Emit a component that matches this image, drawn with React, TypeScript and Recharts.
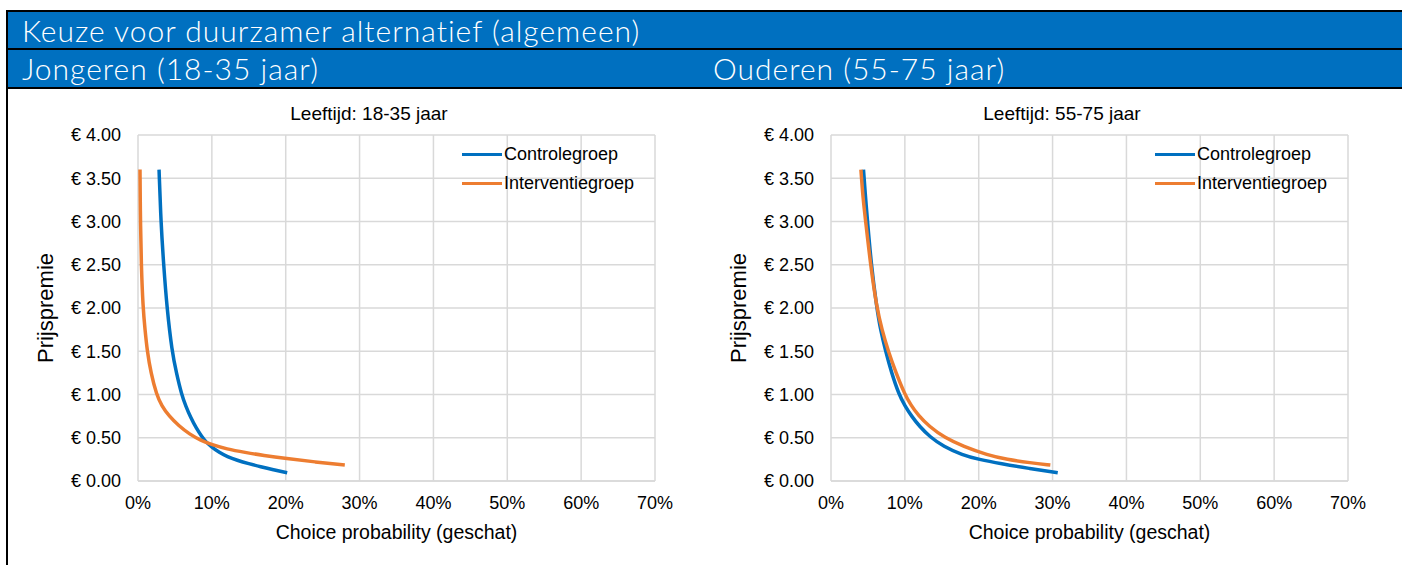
import React from 'react';
import { LineChart, Line, XAxis, YAxis, CartesianGrid, Legend } from 'recharts';

// ---- Data (x = choice probability in %, y = prijspremie in €) ----
const xTicks = [0, 10, 20, 30, 40, 50, 60, 70];
const yTicks = [0, 0.5, 1, 1.5, 2, 2.5, 3, 3.5, 4];

const seriesNames = ['Controlegroep', 'Interventiegroep'];
const seriesColors = ['#0070C0', '#ED7D31'];

// Jongeren (18-35 jaar)
const kansControleJong = [2.85, 3.1, 3.47, 3.92, 4.6, 5.2, 5.9, 6.5, 7.1, 7.95, 8.6, 9.1, 10.0, 11.0, 12.1, 13.4, 15.0, 16.6, 18.3, 20.2];
const premieControleJong = [3.6, 3.0, 2.5, 2.0, 1.5, 1.25, 1.0, 0.86, 0.74, 0.6, 0.52, 0.46, 0.39, 0.33, 0.28, 0.24, 0.2, 0.165, 0.13, 0.095];
const kansInterventieJong = [0.27, 0.31, 0.34, 0.44, 0.68, 0.95, 1.25, 1.75, 2.5, 3.2, 4.2, 5.5, 7.0, 8.5, 10.0, 12.0, 14.5, 17.0, 20.0, 24.0, 28.0];
const premieInterventieJong = [3.6, 3.2, 3.0, 2.5, 2.0, 1.75, 1.5, 1.25, 1.0, 0.87, 0.75, 0.64, 0.54, 0.47, 0.42, 0.37, 0.33, 0.295, 0.26, 0.22, 0.185];

// Ouderen (55-75 jaar)
const kansControleOud = [4.4, 4.7, 4.95, 5.45, 6.2, 6.7, 7.4, 8.2, 9.2, 10.0, 10.9, 12.0, 13.4, 15.2, 17.8, 20.0, 23.0, 26.8, 30.7];
const premieControleOud = [3.6, 3.25, 3.0, 2.5, 2.0, 1.75, 1.5, 1.25, 1.0, 0.87, 0.75, 0.63, 0.51, 0.4, 0.3, 0.25, 0.2, 0.145, 0.095];
const kansInterventieOud = [4.05, 4.35, 4.7, 5.35, 6.2, 6.9, 7.75, 8.8, 10.0, 10.8, 11.8, 13.3, 15.4, 17.9, 21.2, 23.8, 27.0, 29.7];
const premieInterventieOud = [3.6, 3.25, 3.0, 2.5, 2.0, 1.75, 1.5, 1.25, 1.0, 0.88, 0.76, 0.63, 0.5, 0.4, 0.3, 0.25, 0.21, 0.185];

const toPoints = (xs: number[], ys: number[]) => xs.map((x, i) => ({ x, y: ys[i] }));

const FONT = '"Liberation Sans", Arial, sans-serif';
const HFONT = 'Lato, "Open Sans", sans-serif';

const LegendContent = () => (
  <div style={{ fontFamily: FONT, fontSize: 18, color: '#000' }}>
    {seriesNames.map((n, i) => (
      <div key={n} style={{ display: 'flex', alignItems: 'center', height: 29 }}>
        <div style={{ width: 40, height: 3, background: seriesColors[i], marginRight: 2 }} />
        <span style={{ whiteSpace: 'nowrap' }}>{n}</span>
      </div>
    ))}
  </div>
);

type ChartProps = {
  left: number;
  width: number;
  title: string;
  controle: { x: number; y: number }[];
  interventie: { x: number; y: number }[];
};

const Chart = ({ left, width, title, controle, interventie }: ChartProps) => (
  <div style={{ position: 'absolute', left, top: 90, width, height: 475 }}>
    <div
      style={{
        position: 'absolute',
        left: 0,
        width: 738,
        top: 12,
        textAlign: 'center',
        fontFamily: FONT,
        fontSize: 19,
        color: '#000',
        lineHeight: '24px',
      }}
    >
      {title}
    </div>
    <LineChart
      width={width}
      height={475}
      margin={{ top: 45, right: width - 655, bottom: 54, left: 0 }}
    >
      <CartesianGrid stroke="#d9d9d9" strokeWidth={1.5} />
      <XAxis
        type="number"
        dataKey="x"
        domain={[0, 70]}
        ticks={xTicks}
        tickFormatter={(v: number) => `${v}%`}
        height={30}
        tickLine={false}
        axisLine={{ stroke: '#d9d9d9', strokeWidth: 1.5 }}
        tickSize={0}
        tickMargin={15}
        tick={{ fill: '#000', fontSize: 18, fontFamily: FONT }}
        allowDuplicatedCategory={false}
        label={{
          value: 'Choice probability (geschat)',
          position: 'bottom',
          offset: 14,
          style: { fill: '#000', fontSize: 19.5, fontFamily: FONT },
        }}
      />
      <YAxis
        type="number"
        dataKey="y"
        domain={[0, 4]}
        ticks={yTicks}
        tickFormatter={(v: number) => `€ ${v.toFixed(2)}`}
        width={138}
        tickLine={false}
        axisLine={false}
        tickSize={0}
        tickMargin={17}
        tick={{ fill: '#000', fontSize: 18, fontFamily: FONT }}
        label={{
          value: 'Prijspremie',
          angle: -90,
          position: 'insideLeft',
          offset: 45,
          style: { fill: '#000', fontSize: 22, fontFamily: FONT, textAnchor: 'middle' },
        }}
      />
      <Legend
        layout="vertical"
        align="center"
        verticalAlign="middle"
        content={<LegendContent />}
        wrapperStyle={{ position: 'absolute', left: 462, top: 50, width: 220, height: 58 }}
      />
      <Line
        data={controle}
        dataKey="y"
        name={seriesNames[0]}
        type="basis"
        stroke={seriesColors[0]}
        strokeWidth={3.5}
        dot={false}
        isAnimationActive={false}
      />
      <Line
        data={interventie}
        dataKey="y"
        name={seriesNames[1]}
        type="basis"
        stroke={seriesColors[1]}
        strokeWidth={3.5}
        dot={false}
        isAnimationActive={false}
      />
    </LineChart>
  </div>
);

export default function App() {
  return (
    <div
      style={{
        position: 'absolute',
        left: 0,
        top: 0,
        width: 1402,
        height: 565,
        overflow: 'hidden',
        background: '#fff',
      }}
    >
      {/* header table */}
      <div style={{ position: 'absolute', left: 6, top: 10, width: 1396, height: 2, background: '#000' }} />
      <div
        style={{
          position: 'absolute',
          left: 8,
          top: 12,
          width: 1394,
          height: 36,
          background: '#0070C0',
          color: '#fff',
          fontFamily: HFONT,
          fontWeight: 300,
          fontSize: 30,
          letterSpacing: 1,
          whiteSpace: 'nowrap',
        }}
      >
        <span style={{ position: 'absolute', left: 14, top: 0, lineHeight: '36px' }}>
          Keuze voor duurzamer alternatief (algemeen)
        </span>
      </div>
      <div style={{ position: 'absolute', left: 6, top: 48, width: 1396, height: 2, background: '#000' }} />
      <div
        style={{
          position: 'absolute',
          left: 8,
          top: 50,
          width: 1394,
          height: 37,
          background: '#0070C0',
          color: '#fff',
          fontFamily: HFONT,
          fontWeight: 300,
          fontSize: 30,
          letterSpacing: 1,
          whiteSpace: 'nowrap',
        }}
      >
        <span style={{ position: 'absolute', left: 14, top: 0, lineHeight: '37px' }}>Jongeren (18-35 jaar)</span>
        <span style={{ position: 'absolute', left: 705, top: 0, lineHeight: '37px' }}>Ouderen (55-75 jaar)</span>
      </div>
      <div style={{ position: 'absolute', left: 6, top: 87, width: 1396, height: 2, background: '#000' }} />
      <div style={{ position: 'absolute', left: 6, top: 10, width: 2, height: 555, background: '#000' }} />

      <Chart
        left={0}
        width={700}
        title="Leeftijd: 18-35 jaar"
        controle={toPoints(kansControleJong, premieControleJong)}
        interventie={toPoints(kansInterventieJong, premieInterventieJong)}
      />
      <Chart
        left={693}
        width={709}
        title="Leeftijd: 55-75 jaar"
        controle={toPoints(kansControleOud, premieControleOud)}
        interventie={toPoints(kansInterventieOud, premieInterventieOud)}
      />
    </div>
  );
}
